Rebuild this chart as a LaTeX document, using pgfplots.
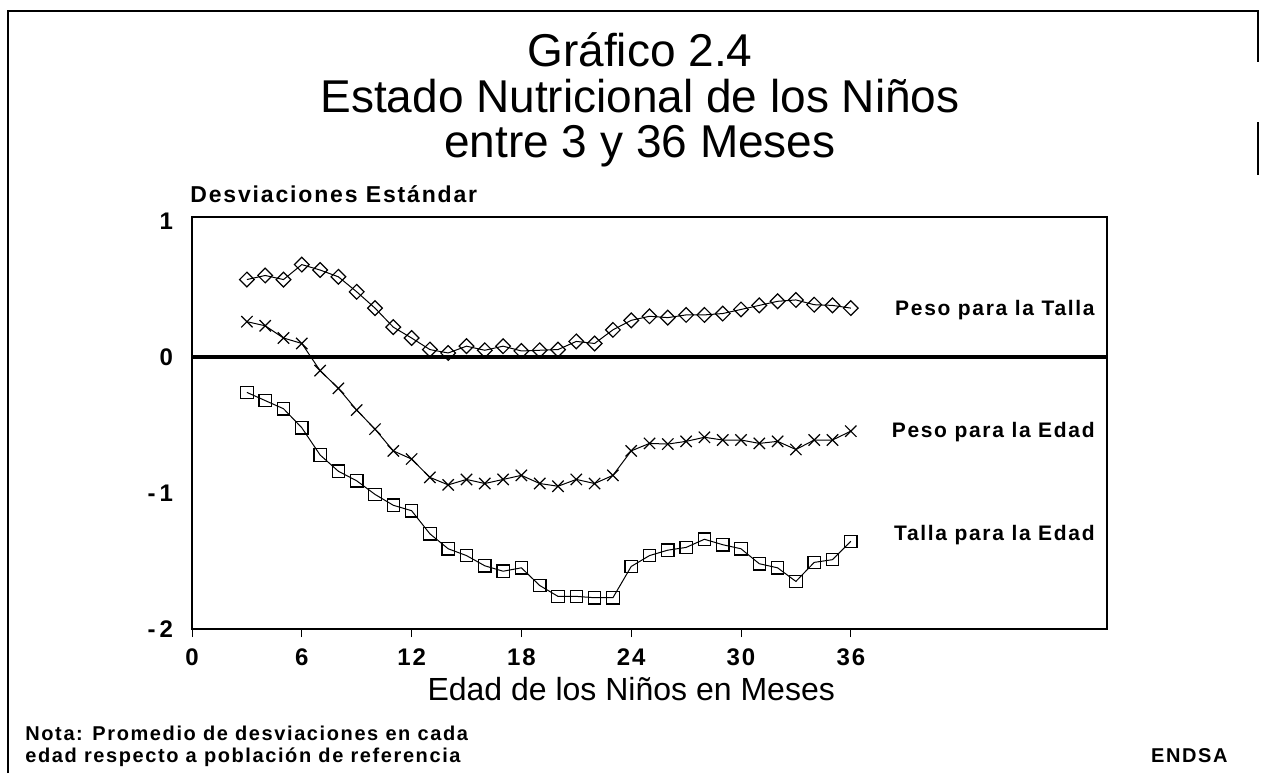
\documentclass[border=0pt]{standalone}
\usepackage{fontspec}
\setmainfont{Liberation Sans}
\newfontfamily\lblfont[LetterSpace=8]{Liberation Sans}
\usepackage{pgfplots}
\pgfplotsset{compat=1.18}

\pgfplotstableread{
m v
3 0.57
4 0.60
5 0.57
6 0.68
7 0.64
8 0.59
9 0.48
10 0.36
11 0.22
12 0.14
13 0.055
14 0.03
15 0.08
16 0.05
17 0.08
18 0.045
19 0.05
20 0.055
21 0.115
22 0.10
23 0.20
24 0.27
25 0.30
26 0.29
27 0.31
28 0.31
29 0.32
30 0.35
31 0.38
32 0.41
33 0.42
34 0.385
35 0.38
36 0.36
}\pesotalla

\pgfplotstableread{
m v
3 0.26
4 0.23
5 0.14
6 0.10
7 -0.10
8 -0.23
9 -0.39
10 -0.53
11 -0.69
12 -0.75
13 -0.885
14 -0.94
15 -0.90
16 -0.93
17 -0.90
18 -0.87
19 -0.93
20 -0.95
21 -0.90
22 -0.93
23 -0.87
24 -0.69
25 -0.635
26 -0.64
27 -0.62
28 -0.59
29 -0.61
30 -0.61
31 -0.635
32 -0.62
33 -0.68
34 -0.61
35 -0.61
36 -0.545
}\pesoedad

\pgfplotstableread{
m v
3 -0.26
4 -0.32
5 -0.38
6 -0.52
7 -0.72
8 -0.84
9 -0.91
10 -1.01
11 -1.09
12 -1.13
13 -1.30
14 -1.41
15 -1.46
16 -1.535
17 -1.575
18 -1.55
19 -1.68
20 -1.76
21 -1.76
22 -1.77
23 -1.77
24 -1.54
25 -1.46
26 -1.42
27 -1.40
28 -1.34
29 -1.38
30 -1.41
31 -1.52
32 -1.55
33 -1.65
34 -1.51
35 -1.49
36 -1.355
}\tallaedad

\begin{document}
\begin{tikzpicture}
\path[use as bounding box] (0,0) rectangle (630.5pt,386.5pt);
\begin{axis}[
  at={(96pt,72pt)}, anchor=south west,
  scale only axis, width=457.5pt, height=206pt,
  xmin=0, xmax=50, ymin=-2, ymax=1.03,
  xtick={0,6,...,36}, ytick={-2,-1,0,1},
  yticklabels={{-\,2},{-\,1},0,1},
  tick align=outside, xtick pos=bottom, ytick pos=left,
  major tick length=4pt,
  ytick style={draw=none},
  xtick style={line width=0.5pt, black},
  tick label style={font=\lblfont\bfseries\fontsize{12}{13}\selectfont},
  xticklabel style={yshift=-2.5pt},
  yticklabel style={xshift=-2pt},
  /pgf/number format/assume math mode=true,
  axis line style={line width=0.6pt, black},
  xlabel={Edad de los Niños en Meses},
  xlabel style={font=\fontsize{16}{18}\selectfont, at={(axis description cs:0.48,0)}, anchor=base, yshift=-35.5pt, inner sep=0pt},
  clip=false,
]
\addplot[black, line width=2.2pt, forget plot] coordinates {(0,0) (50,0)};
\addplot[black, line width=0.5pt, mark=square, mark size=2.6pt, mark options={rotate=45, line width=0.6pt}] table[x=m,y=v] {\pesotalla};
\addplot[black, line width=0.5pt, mark=x, mark size=4pt, mark options={line width=0.6pt}] table[x=m,y=v] {\pesoedad};
\addplot[black, line width=0.5pt, mark=square, mark size=3.1pt, mark options={line width=0.6pt}] table[x=m,y=v] {\tallaedad};
\end{axis}
\begin{scope}[yshift=386.5pt, x=0.5pt, y=-0.5pt]
  % frame
  \draw[line width=1pt] (8,773) -- (8,11) -- (1258,11) -- (1258,62);
  \draw[line width=1pt] (1258,122) -- (1258,175);
  % title
  \node[anchor=base, inner sep=0pt, font=\fontsize{23}{27}\selectfont] at (640,67) {Gráfico 2.4};
  \node[anchor=base, inner sep=0pt, font=\fontsize{23}{27}\selectfont] at (640,112) {Estado Nutricional de los Niños};
  \node[anchor=base, inner sep=0pt, font=\fontsize{23}{27}\selectfont] at (640,157) {entre 3 y 36 Meses};
  % y label
  \node[anchor=base west, inner sep=0pt, font=\lblfont\bfseries\fontsize{11.5}{13}\selectfont] at (190,202) {Desviaciones Estándar};
  % series labels
  \node[anchor=base east, inner sep=0pt, font=\lblfont\bfseries\fontsize{10.5}{12}\selectfont] at (1095,315) {Peso para la Talla};
  \node[anchor=base east, inner sep=0pt, font=\lblfont\bfseries\fontsize{10.5}{12}\selectfont] at (1095,437) {Peso para la Edad};
  \node[anchor=base east, inner sep=0pt, font=\lblfont\bfseries\fontsize{10.5}{12}\selectfont] at (1095,540) {Talla para la Edad};
  % notes
  \node[anchor=base west, inner sep=0pt, font=\lblfont\bfseries\fontsize{10}{11}\selectfont] at (25,740) {Nota: Promedio de desviaciones en cada};
  \node[anchor=base west, inner sep=0pt, font=\lblfont\bfseries\fontsize{10}{11}\selectfont] at (25,762) {edad respecto a población de referencia};
  \node[anchor=base east, inner sep=0pt, font=\lblfont\bfseries\fontsize{10}{11}\selectfont] at (1228,762) {ENDSA};
\end{scope}
\end{tikzpicture}
\end{document}
